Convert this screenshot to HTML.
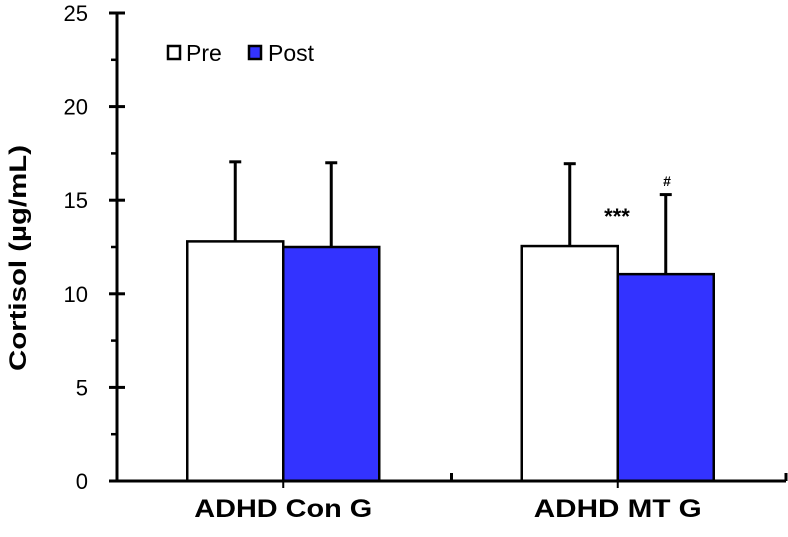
<!DOCTYPE html>
<html><head><meta charset="utf-8"><style>
body{margin:0;background:#fff}
svg text{font-family:"Liberation Sans",Arial,sans-serif}
</style></head><body>
<svg width="788" height="532" viewBox="0 0 788 532">
<g id="g"></g>
</svg>
<script>
const categories=["ADHD Con G","ADHD MT G"];
const catWidths=[178,168];
const preVals=[12.8,12.55];
const postVals=[12.5,11.05];
const preErr=[4.25,4.4];
const postErr=[4.5,4.25];
const yTicks=[0,5,10,15,20,25];
const ns="http://www.w3.org/2000/svg";
const g=document.getElementById('g');
const x0=117,y0=481,yTop=13,yMax=25,xEnd=786;
const y=v=>y0-(v/yMax)*(y0-yTop);
const groupW=(xEnd-x0)/categories.length;
function el(t,a,p){const e=document.createElementNS(ns,t);for(const k in a)e.setAttribute(k,a[k]);(p||g).appendChild(e);return e;}
categories.forEach((c,i)=>{
  const cx=x0+groupW*(i+0.5)-1;
  const bw=96;
  [[preVals[i],preErr[i],'#fff',cx-bw],[postVals[i],postErr[i],'#3333ff',cx]].forEach((s,j)=>{
    const ex=s[3]+bw/2;
    const eb=el('line',{x1:ex,x2:ex,y1:y(s[0]),y2:y(s[0]+s[1]),stroke:'#000','stroke-width':3});
    
    
    const cap=el('line',{x1:ex-6,x2:ex+6,y1:y(s[0]+s[1]),y2:y(s[0]+s[1]),stroke:'#000','stroke-width':3});
    
    
    const r=el('rect',{x:s[3],y:y(s[0]),width:bw,height:y0-y(s[0]),fill:s[2],stroke:'#000','stroke-width':2.5});
    
    
  });
  const t=el('text',{x:cx,y:517,'text-anchor':'middle','font-size':25,'font-weight':'bold',textLength:catWidths[i],lengthAdjust:'spacingAndGlyphs'});
  t.textContent=c;
  
  
  const tk=el('line',{x1:x0+groupW*(i+1),x2:x0+groupW*(i+1),y1:y0-8,y2:y0,stroke:'#000','stroke-width':3});
  
  
  const tk2=el('line',{x1:cx,x2:cx,y1:y0,y2:y0+7,stroke:'#000','stroke-width':2});
  
  
});
const ya=el('line',{x1:x0,x2:x0,y1:yTop,y2:y0,stroke:'#000','stroke-width':3});


const xa=el('line',{x1:x0-8,x2:xEnd,y1:y0,y2:y0,stroke:'#000','stroke-width':3});


yTicks.forEach(v=>{
  const l=el('line',{x1:x0-8,x2:x0+8,y1:y(v),y2:y(v),stroke:'#000','stroke-width':3});
  
  
  if(v<yMax){const m=el('line',{x1:x0-6,x2:x0,y1:y(v+2.5),y2:y(v+2.5),stroke:'#000','stroke-width':2.5});
  
  }
  const t=el('text',{x:88,y:y(v)+8,'text-anchor':'end','font-size':22});
  t.textContent=v;
  
  
});
</script>
<svg width="788" height="532" style="position:absolute;left:0;top:0">
<text x="26" y="258" transform="rotate(-90 26 258)" text-anchor="middle" font-size="24" font-weight="bold" textLength="226" lengthAdjust="spacingAndGlyphs">Cortisol (µg/mL)</text>
<g>
<rect x="168" y="46" width="12" height="13" fill="#fff" stroke="#000" stroke-width="2.5"/>
<text x="186" y="61" font-size="23">Pre</text>
<rect x="249" y="46" width="12" height="13" fill="#3333ff" stroke="#000" stroke-width="2.5"/>
<text x="268" y="61" font-size="23">Post</text>
</g>
<text x="617" y="224" text-anchor="middle" font-size="22" font-weight="bold">***</text>
<text x="667" y="186" text-anchor="middle" font-size="14" font-weight="bold">#</text>
</svg>
</body></html>
